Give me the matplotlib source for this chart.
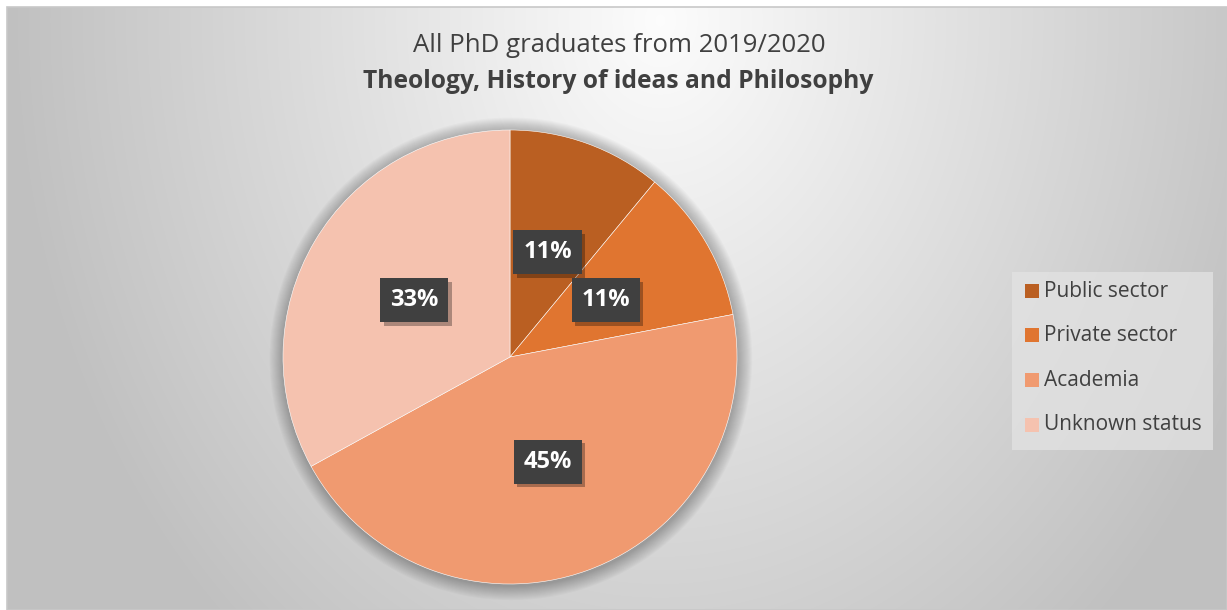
import numpy as np
import matplotlib.pyplot as plt
from matplotlib.patches import Rectangle, Circle
import matplotlib.patheffects as pe

categories = ["Public sector", "Private sector", "Academia", "Unknown status"]
values = [11, 11, 45, 33]
colors = ["#BA5F22", "#E07530", "#F09A70", "#F5C2AF"]
title_line1 = "All PhD graduates from 2019/2020"
title_line2 = "Theology, History of ideas and Philosophy"

FONT = "Open Sans"
W, H = 1227, 610
fig = plt.figure(figsize=(W / 100, H / 100), dpi=100)
fig.patch.set_facecolor("white")

# --- chart area background (radial gray gradient) ---
x0, y0 = 7, 7  # top-left of chart area in pixels
bg = fig.add_axes([x0 / W, 0, (W - x0) / W, (H - y0) / H])
yy, xx = np.mgrid[0:H - y0, 0:W - x0]
px = xx + x0
py = yy + y0
d = np.sqrt(((px - 660) / 620.0) ** 2 + ((py - 20) / 780.0) ** 2)
d = np.clip(d, 0, 1.05)
v = 0.99 - (0.99 - 0.765) * d
img = np.dstack([v, v, v])
bg.imshow(img, aspect="auto", interpolation="bilinear", extent=[0, 1, 0, 1])
bg.set_xlim(0, 1)
bg.set_ylim(0, 1)
bg.axis("off")
bg.add_patch(Rectangle((0, 0), 1, 1, transform=bg.transAxes, fill=False,
                       edgecolor="#c8c8c8", linewidth=1.2, clip_on=False))

# --- pie ---
cx, cy, r = 510, 357, 227
ax = fig.add_axes([(cx - r) / W, (H - cy - r) / H, 2 * r / W, 2 * r / H])

# soft outer shadow
for i in range(14):
    rad = 1.0 + (14 - i) * 0.0045
    ax.add_patch(Circle((0.004, -0.008), rad, facecolor="black", alpha=0.018,
                        edgecolor="none", zorder=0, clip_on=False))

wedges, texts, autotexts = ax.pie(
    values, colors=colors, startangle=90, counterclock=False, radius=1.0,
    autopct=lambda p: f"{p:.0f}%", pctdistance=0.49,
    wedgeprops=dict(edgecolor="#ffffff", linewidth=0.4),
    textprops=dict(color="white", fontsize=17, fontweight="bold", family=FONT),
)
ax.set_xlim(-1, 1)
ax.set_ylim(-1, 1)
ax.set_aspect("equal")
ax.axis("off")
for t in autotexts:
    t.set_zorder(5)
    t.set_bbox(dict(boxstyle="square,pad=0.42", facecolor="#404040",
                    edgecolor="none"))
    t.get_bbox_patch().set_path_effects(
        [pe.SimplePatchShadow(offset=(2.5, -2.5), shadow_rgbFace="black", alpha=0.3),
         pe.Normal()])

# --- titles ---
fig.text(619 / W, 1 - 46 / H, title_line1, ha="center", va="center",
         fontsize=18.5, color="#404040", family=FONT)
fig.text(618 / W, 1 - 81 / H, title_line2, ha="center", va="center",
         fontsize=17.7, fontweight="bold", color="#404040", family=FONT)

# --- legend ---
fig.patches.append(Rectangle((1012 / W, 1 - 450 / H), 201 / W, 178 / H,
                             transform=fig.transFigure, facecolor="#e3e3e3",
                             edgecolor="none", alpha=0.75, zorder=1))
leg_y = [291, 335, 380, 425]
for lab, col, yp in zip(categories, colors, leg_y):
    fig.patches.append(Rectangle((1025 / W, 1 - (yp + 7) / H), 14 / W, 14 / H,
                                 transform=fig.transFigure, facecolor=col,
                                 edgecolor="none", zorder=2))
    fig.text(1044 / W, 1 - yp / H, lab, ha="left", va="center", fontsize=15,
             color="#404040", family=FONT, zorder=3)

fig.savefig("out.png", dpi=100, facecolor="white")
